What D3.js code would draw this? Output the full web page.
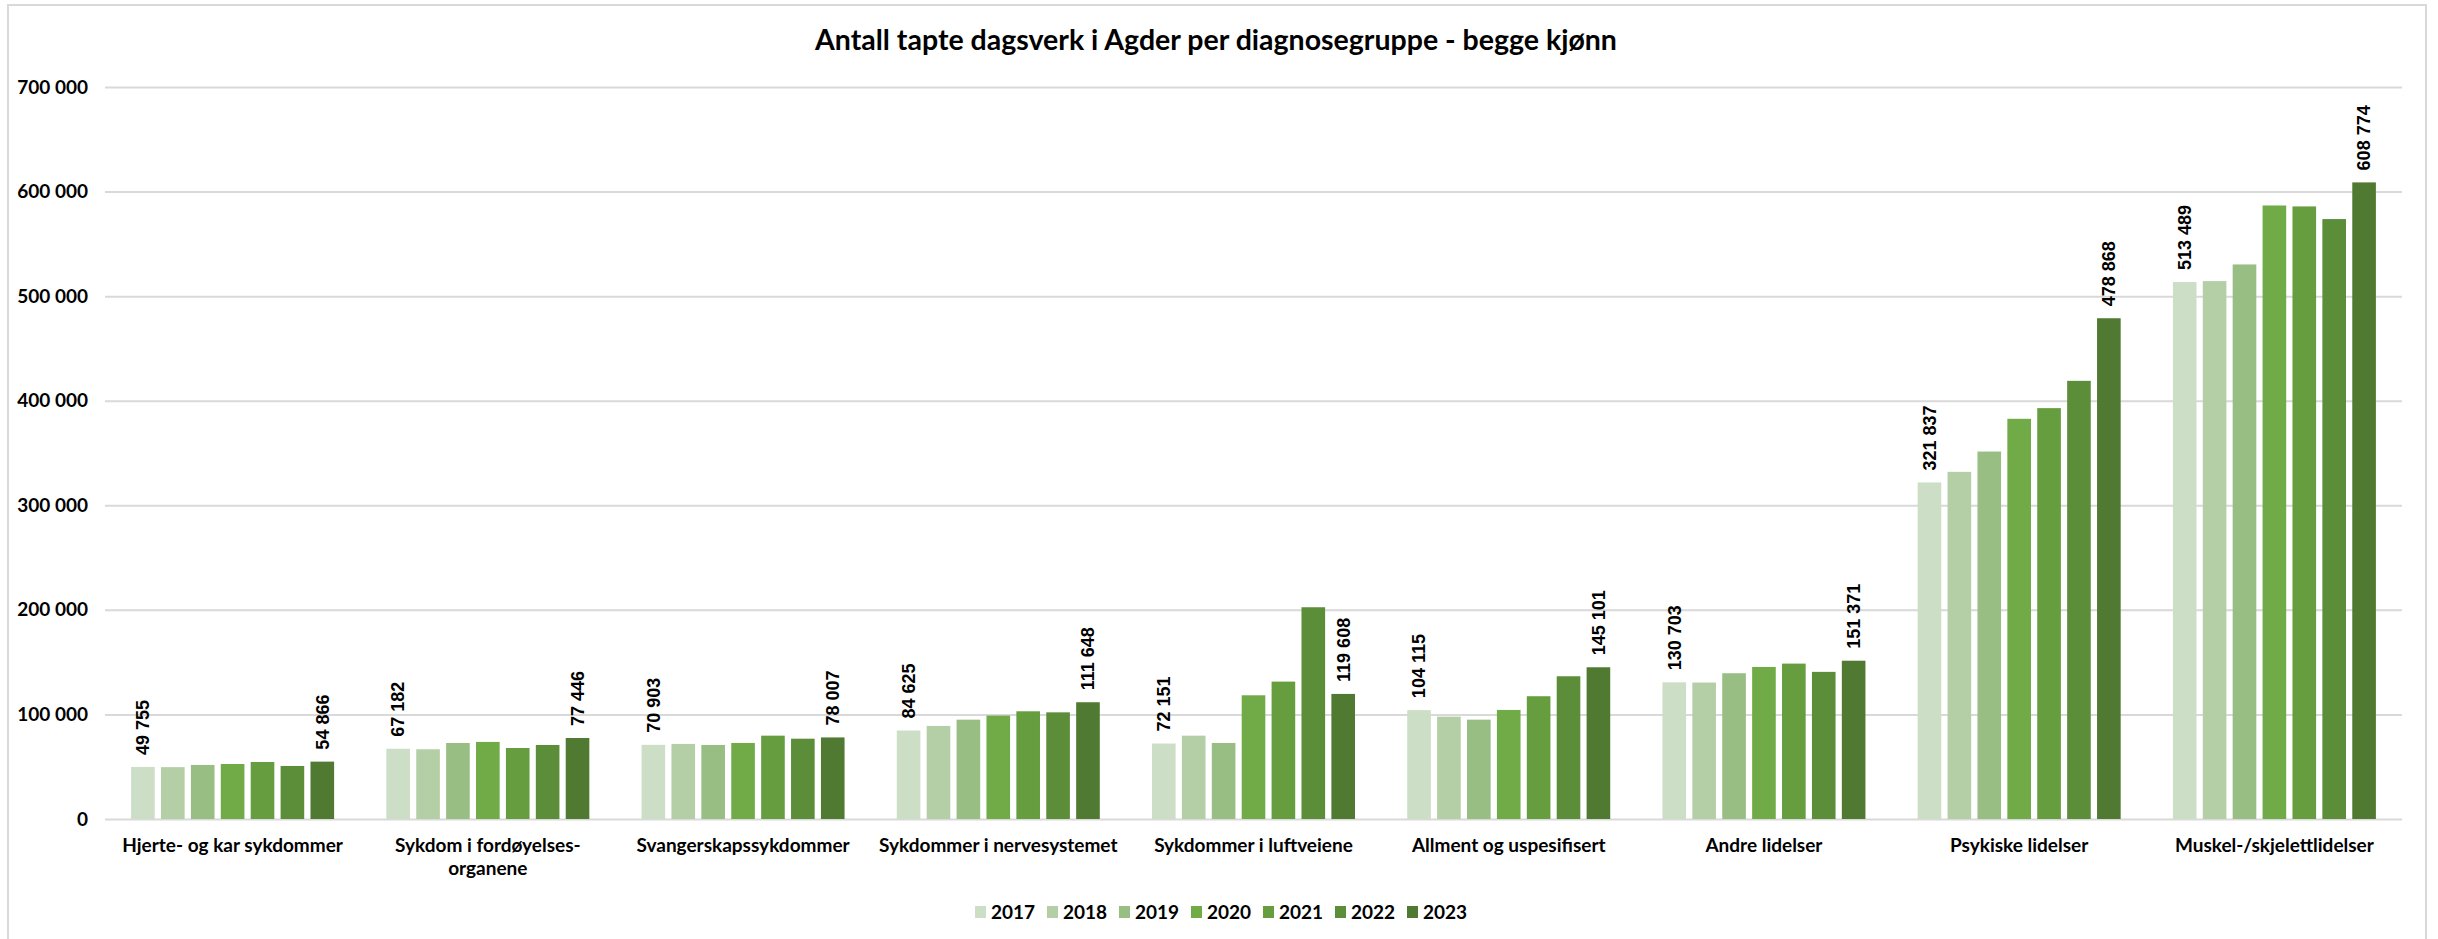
<!DOCTYPE html>
<html>
<head>
	<title>Antall tapte dagsverk</title>
	<meta charset="UTF-8">
	<style>
		body { margin: 0; background: #fff; }
		.grid line { stroke: #d9d9d9; stroke-width: 2; }
		.grid path { display: none; }
		.grid text { font-family: Lato, sans-serif; font-weight: bold; font-size: 19px; fill: #000; }
		.cat { font-family: Lato, sans-serif; font-weight: bold; font-size: 19px; fill: #000; }
		.lab { font-family: "Liberation Sans", Arial, sans-serif; font-weight: bold; font-size: 18px; fill: #000; }
		.legend text { font-family: Lato, sans-serif; font-weight: bold; font-size: 19px; fill: #000; }
	</style>
</head>
<body>
</body>
<script src="https://d3js.org/d3.v7.min.js"></script>
<script type="text/javascript">

'use strict';

var title = "Antall tapte dagsverk i Agder per diagnosegruppe - begge kjønn";

var categories = [
	"Hjerte- og kar sykdommer",
	"Sykdom i fordøyelses-organene",
	"Svangerskapssykdommer",
	"Sykdommer i nervesystemet",
	"Sykdommer i luftveiene",
	"Allment og uspesifisert",
	"Andre lidelser",
	"Psykiske lidelser",
	"Muskel-/skjelettlidelser"
];

var years = ["2017", "2018", "2019", "2020", "2021", "2022", "2023"];

var v2017 = [49755, 67182, 70903, 84625, 72151, 104115, 130703, 321837, 513489];
var v2018 = [49600, 66700, 71800, 89000, 79700, 97900, 130500, 332000, 514400];
var v2019 = [51700, 72700, 70800, 95000, 72700, 95000, 139400, 351400, 530300];
var v2020 = [52600, 73700, 72700, 98900, 118300, 104300, 145400, 382700, 586700];
var v2021 = [54500, 67900, 79700, 103000, 131400, 117400, 148600, 392900, 585800];
var v2022 = [50700, 70800, 76800, 102000, 202500, 136500, 140700, 419000, 573700];
var v2023 = [54866, 77446, 78007, 111648, 119608, 145101, 151371, 478868, 608774];

var yTicks = [0, 100000, 200000, 300000, 400000, 500000, 600000, 700000];
var labelledYears = ["2017", "2023"];

var colors = ["#cddec7", "#b4cfa6", "#98be84", "#70ab47", "#659d3f", "#5c8e3a", "#507a31"];

var series = [v2017, v2018, v2019, v2020, v2021, v2022, v2023];

var W = 2438, H = 939;
var svg = d3.select("body").append("svg")
	.attr("width", W)
	.attr("height", H);

// chart border
svg.append("rect")
	.attr("x", 8).attr("y", 5)
	.attr("width", 2418).attr("height", 960)
	.attr("fill", "none")
	.attr("stroke", "#d9d9d9")
	.attr("stroke-width", 2);

svg.append("text")
	.attr("x", 1216).attr("y", 50)
	.attr("text-anchor", "middle")
	.style("font-family", "Lato, sans-serif")
	.style("font-weight", "bold")
	.style("font-size", "28.5px")
	.text(title);

var plotL = 105, plotR = 2402, plotT = 87, plotB = 819;

var x0 = d3.scaleBand()
	.domain(categories)
	.range([plotL, plotR])
	.paddingInner(0.18)
	.paddingOuter(0.09);

var x1 = d3.scaleBand()
	.domain(years)
	.range([0, x0.bandwidth()])
	.paddingInner(0.21)
	.paddingOuter(0.105);

var y = d3.scaleLinear()
	.domain([0, 700000])
	.range([plotB, plotT]);

var locale = d3.formatLocale({decimal: ",", thousands: " ", grouping: [3], currency: ["", " kr"]});
var fmt = locale.format(",d");

svg.append("g")
	.attr("class", "grid")
	.attr("transform", "translate(" + plotL + ",0)")
	.call(d3.axisLeft(y)
		.tickValues(yTicks)
		.tickSize(-(plotR - plotL))
		.tickPadding(17)
		.tickFormat(fmt));

var rows = categories.map(function(c, i){
	return {cat: c, values: years.map(function(yr, j){ return {year: yr, value: series[j][i]}; })};
});

var group = svg.append("g").selectAll("g")
	.data(rows)
	.enter().append("g")
		.attr("transform", function(d){ return "translate(" + x0(d.cat) + ",0)"; });

group.selectAll("rect")
	.data(function(d){ return d.values; })
	.enter().append("rect")
		.attr("x", function(d){ return x1(d.year); })
		.attr("y", function(d){ return y(d.value); })
		.attr("width", x1.bandwidth())
		.attr("height", function(d){ return y(0) - y(d.value); })
		.attr("fill", function(d, i){ return colors[i]; });

group.selectAll("text.lab")
	.data(function(d){ return d.values.filter(function(v){ return labelledYears.indexOf(v.year) >= 0; }); })
	.enter().append("text")
		.attr("class", "lab")
		.attr("transform", function(d){
			return "translate(" + (x1(d.year) + x1.bandwidth() / 2) + "," + (y(d.value) - 12) + ") rotate(-90)";
		})
		.attr("dy", "0.35em")
		.text(function(d){ return fmt(d.value); });

// category labels, the long one split after the hyphen
var catText = svg.append("g").selectAll("text")
	.data(categories)
	.enter().append("text")
		.attr("class", "cat")
		.attr("text-anchor", "middle")
		.attr("x", function(d){ return x0(d) + x0.bandwidth() / 2; })
		.attr("y", 852);

catText.each(function(d){
	var t = d3.select(this);
	var parts = d.split(/(?<=fordøyelses-)/);
	parts.forEach(function(p, i){
		t.append("tspan")
			.attr("x", x0(d) + x0.bandwidth() / 2)
			.attr("dy", i === 0 ? 0 : 23)
			.text(p);
	});
});

// legend
var legend = svg.append("g")
	.attr("class", "legend")
	.attr("transform", "translate(975,912)");

var item = legend.selectAll("g")
	.data(years)
	.enter().append("g")
		.attr("transform", function(d, i){ return "translate(" + (i * 72) + ",0)"; });

item.append("rect")
	.attr("x", 0).attr("y", -6)
	.attr("width", 11).attr("height", 12)
	.attr("fill", function(d, i){ return colors[i]; });

item.append("text")
	.attr("x", 16)
	.attr("dy", "0.35em")
	.text(function(d){ return d; });

</script>
</html>
